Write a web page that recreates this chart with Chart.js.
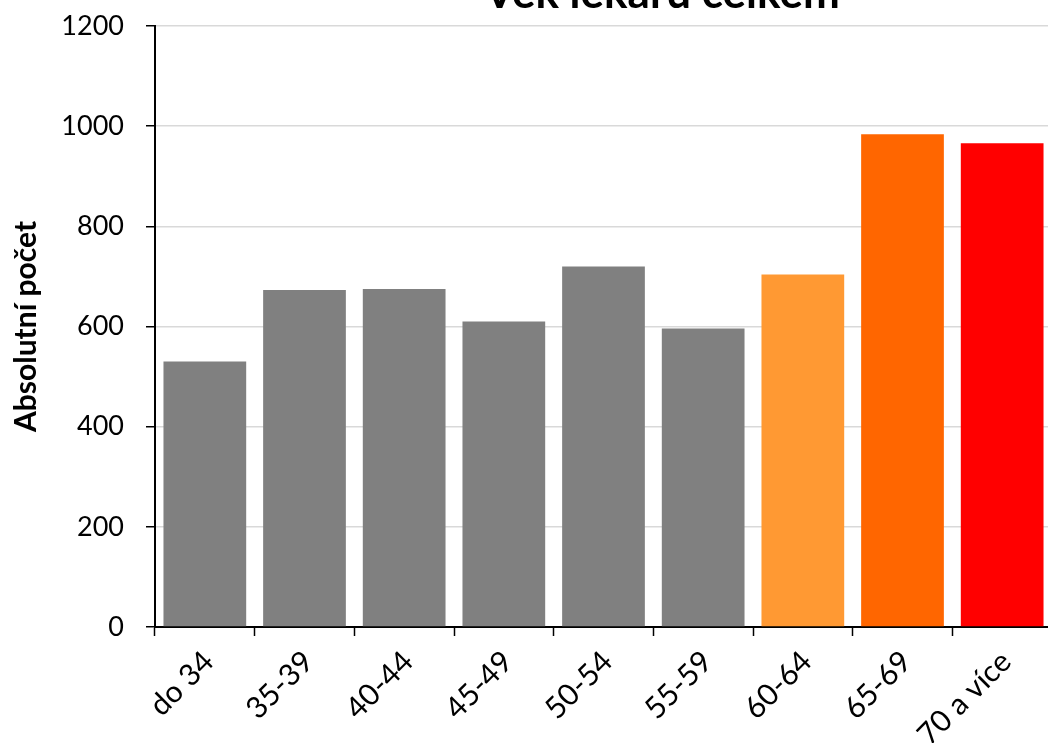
<!DOCTYPE html>
<html>
<head>
<meta charset="utf-8">
<script src="https://cdn.jsdelivr.net/npm/chart.js@4.4.1/dist/chart.umd.min.js"></script>
<style>
html, body { margin: 0; padding: 0; overflow: hidden; background: #ffffff; }
#wrap { position: relative; width: 1053px; height: 743px; }
</style>
</head>
<body>
<div id="wrap"><canvas id="c"></canvas></div>
<script>
const chartTitle = 'Věk lékařů celkem';
const yAxisTitle = 'Absolutní počet';
const categories = ['do 34', '35-39', '40-44', '45-49', '50-54', '55-59', '60-64', '65-69', '70 a více'];
const values = [530, 673, 675, 610, 720, 596, 704, 984, 966];
const barColors = ['#808080', '#808080', '#808080', '#808080', '#808080', '#808080', '#FF9933', '#FF6600', '#FF0000'];
const yTicks = [0, 200, 400, 600, 800, 1000, 1200];

const titlePlugin = {
  id: 'cutTitle',
  afterDraw(chart) {
    const ctx = chart.ctx;
    ctx.save();
    ctx.font = 'bold 44px Lato';
    ctx.fillStyle = '#000000';
    ctx.textAlign = 'center';
    ctx.textBaseline = 'alphabetic';
    ctx.fillText(chartTitle, 662, 8);
    ctx.restore();
  }
};

new Chart(document.getElementById('c'), {
  type: 'bar',
  data: {
    labels: categories,
    datasets: [{
      data: values,
      backgroundColor: barColors,
      borderWidth: 0,
      barPercentage: 0.83,
      categoryPercentage: 1.0
    }]
  },
  options: {
    responsive: true,
    maintainAspectRatio: false,
    animation: false,
    layout: { padding: { top: 26, right: 1, left: 0, bottom: 0 } },
    plugins: { legend: { display: false }, tooltip: { enabled: false }, title: { display: false } },
    scales: {
      x: {
        offset: true,
        grid: { display: true, drawOnChartArea: false, drawTicks: true, tickLength: 9, tickColor: '#000000', tickWidth: 1.5, offset: true },
        border: { display: true, color: '#000000', width: 2 },
        ticks: {
          color: '#000000',
          font: { family: 'Lato', size: 30 },
          minRotation: 45, maxRotation: 45,
          padding: 8,
          labelOffset: 4,
          autoSkip: false
        },
        afterFit(scale) { scale.height = 116; scale.paddingLeft = 0; scale.paddingRight = 0; }
      },
      y: {
        min: 0, max: 1200,
        afterBuildTicks(scale) { scale.ticks = yTicks.map(v => ({ value: v })); },
        grid: { color: '#d9d9d9', lineWidth: 1.5, drawTicks: true, tickLength: 9, tickColor: '#000000', tickWidth: 1.5 },
        border: { display: true, color: '#000000', width: 2 },
        ticks: { color: '#000000', font: { family: 'Lato', size: 27 }, padding: 22, callback: (v) => String(v) },
        title: { display: true, text: yAxisTitle, color: '#000000', font: { family: 'Lato', size: 30, weight: 'bold' }, padding: { top: 8, bottom: 0 } },
        afterFit(scale) { scale.width = 155; scale.paddingTop = 0; scale.paddingBottom = 0; }
      }
    }
  },
  plugins: [titlePlugin]
});
</script>
</body>
</html>
